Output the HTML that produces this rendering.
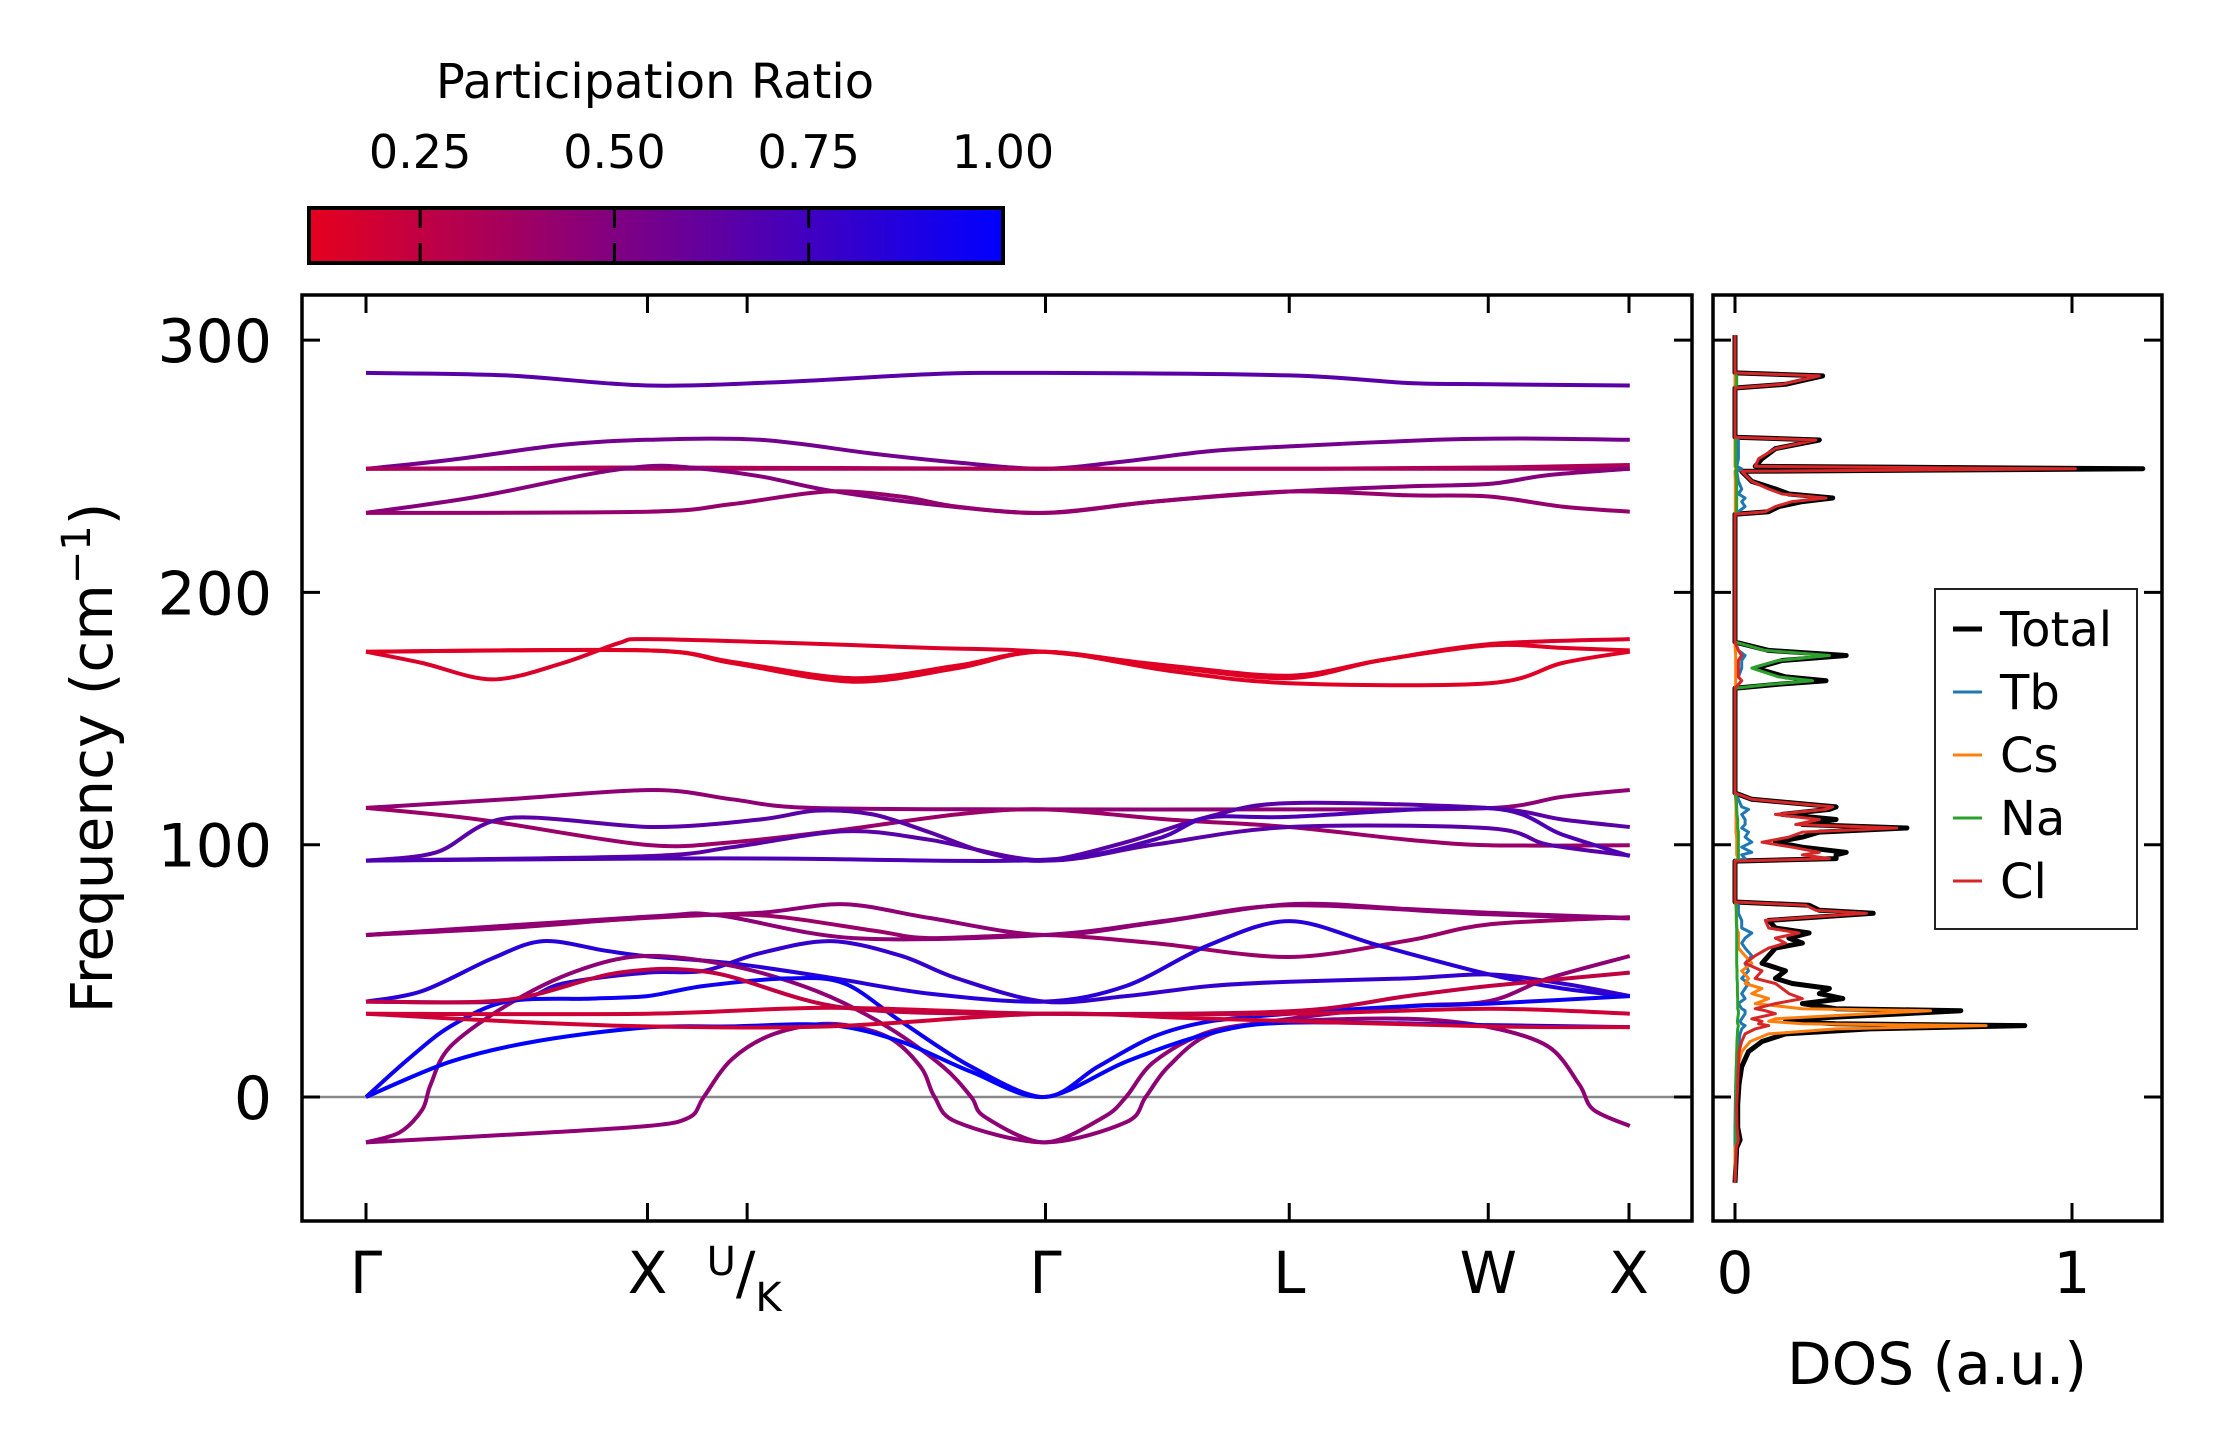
<!DOCTYPE html>
<html><head><meta charset="utf-8"><style>
html,body{margin:0;padding:0;background:#fff;}
svg{display:block;font-family:"DejaVu Sans","Liberation Sans",sans-serif;}
</style></head><body>
<svg id="fig" width="2222" height="1455" viewBox="0 0 2222 1455" xmlns="http://www.w3.org/2000/svg">
<defs>
<linearGradient id="cbgrad" x1="0" x2="1" y1="0" y2="0">
<stop offset="0" stop-color="rgb(230,0,30)"/><stop offset="1" stop-color="rgb(0,0,255)"/>
</linearGradient>
<clipPath id="mainclip"><rect x="302" y="295" width="1390" height="926"/></clipPath>
<clipPath id="dosclip"><rect x="1713" y="295" width="449" height="926"/></clipPath>
</defs>
<g id="colorbar">
<text x="655" y="98" font-size="48" text-anchor="middle">Participation Ratio</text>
<rect x="309" y="208" width="694" height="55" fill="url(#cbgrad)" stroke="#000" stroke-width="4"/>
<g id="cbticks"></g>
</g>
<g id="main">
<line x1="302" x2="1692" y1="1097" y2="1097" stroke="#888" stroke-width="2.5"/>
<g id="bands" clip-path="url(#mainclip)"></g>
<rect x="302" y="295" width="1390" height="926" fill="none" stroke="#000" stroke-width="3.5"/>
<g id="mainticks"></g>
<text transform="translate(112,758) rotate(-90)" font-size="58" text-anchor="middle">Frequency (cm<tspan dy="-22" font-size="40">−1</tspan><tspan dy="22">)</tspan></text>
</g>
<g id="dos">
<g id="doscurves" clip-path="url(#dosclip)"></g>
<rect x="1713" y="295" width="449" height="926" fill="none" stroke="#000" stroke-width="3.5"/>
<g id="dosticks"></g>
<text x="1937" y="1384" font-size="58" text-anchor="middle">DOS (a.u.)</text>
<g id="legend">
<rect x="1935" y="589" width="202" height="340" fill="#fff" stroke="#222" stroke-width="2"/>
</g>
</g>
</svg>
<script>
// ---- Band structure data ----
const kLabels = ["Γ","X","U/K","Γ","L","W","X"];
const kTicks = [0, 1.0, 1.354, 2.414, 3.28, 3.987, 4.487];
const yTicks = [0, 100, 200, 300];
const cbTicks = [0.25, 0.50, 0.75, 1.00];
const cbTickLabels = ["0.25","0.50","0.75","1.00"];
const bandPR = [0.65,0.55,0.38,0.33,0.48,0.42,0.15,0.13,0.13,0.45,0.4,0.65,0.65,0.7,0.45,0.4,0.45,0.85,0.8,0.45,0.45,1.0,0.95,0.2,0.2,0.25];
const bandK = [
[0,0.5,1.0,1.5,2.0,2.41,3.28,3.7,3.99,4.49],
[0,0.3,0.7,1.0,1.4,1.8,2.1,2.41,2.7,3.0,3.3,3.8,4.1,4.49],
[0,1,2.41,3.28,3.99,4.49],
[0,1,2.41,3.28,3.99,4.49],
[0,0.4,0.8,1.0,1.15,1.4,1.64,2.0,2.41,2.8,3.28,3.7,3.99,4.2,4.49],
[0,1.0,1.3,1.64,1.9,2.1,2.41,2.8,3.28,3.7,3.99,4.25,4.49],
[0,0.2,0.45,0.7,0.9,1.0,1.5,2.0,2.41,2.85,3.28,3.6,3.99,4.49],
[0,1.0,1.3,1.73,2.1,2.41,2.85,3.28,3.99,4.25,4.49],
[0,1.0,1.3,1.73,2.1,2.41,2.85,3.28,3.6,3.99,4.25,4.49],
[0,0.5,1.02,1.3,1.58,2.41,3.28,3.99,4.25,4.49],
[0,0.4,0.99,1.3,1.7,2.1,2.41,2.85,3.28,3.7,3.99,4.49],
[0,0.25,0.5,1.02,1.4,1.6,1.8,2.0,2.2,2.41,2.7,2.99,3.28,3.99,4.25,4.49],
[0,1.0,1.3,1.7,2.0,2.41,2.8,3.28,3.99,4.2,4.49],
[0,1.0,1.5,2.41,2.8,2.99,3.28,3.99,4.25,4.49],
[0,0.5,1.02,1.4,1.7,2.0,2.41,2.8,3.28,3.7,3.99,4.49],
[0,1.0,1.4,1.8,2.0,2.41,2.8,3.28,3.7,3.99,4.49],
[0,1.0,1.25,1.73,2.41,2.85,3.28,3.99,4.49],
[0,0.2,0.45,0.63,0.85,0.99,1.3,1.65,2.0,2.41,2.7,2.99,3.28,3.6,3.99,4.25,4.49],
[0,0.51,0.7,1.0,1.2,1.4,1.65,1.9,2.1,2.41,2.7,3.0,3.28,3.7,3.99,4.25,4.49],
[0,0.12,0.2,0.23,0.3,0.51,0.75,0.99,1.3,1.6,1.85,2.05,2.15,2.2,2.41,2.62,2.7,2.8,3.0,3.28,3.7,3.99,4.2,4.31,4.36,4.49],
[0,0.5,1.0,1.15,1.2,1.3,1.45,1.65,1.85,1.97,2.02,2.1,2.41,2.7,2.77,2.85,3.0,3.28,3.7,3.99,4.2,4.49],
[0,0.3,0.6,0.99,1.3,1.65,1.9,2.15,2.41,2.7,2.99,3.28,3.99,4.49],
[0,0.15,0.3,0.5,0.8,1.0,1.2,1.5,1.7,1.9,2.15,2.41,2.6,2.8,3.0,3.28,3.7,3.99,4.49],
[0,1.0,1.65,2.41,3.28,3.99,4.49],
[0,0.5,1.0,1.65,2.41,3.0,3.99,4.49],
[0,0.5,0.9,1.23,1.7,2.41,3.28,3.7,3.99,4.49]
];
const bandF = [
[287,286,282,283.5,286.5,287,286,283,282.5,282],
[249,252.5,258.5,260.5,260.5,255,251.5,249,252,256,258,260.5,261,260.5],
[249,249,249,249,249,249],
[249,249.5,249,249,249.5,250.5],
[231.5,238,247,250,249.5,246,240.5,235,231.5,236,240,242,243,246.5,249],
[231.5,232,235,240,238,234,231.5,236,240,238.5,238,234,232],
[176.5,172,165.5,172,180,181.5,180,178,176.5,171,167,173,179.5,181.5],
[176.5,177,172,164.6,170,176.5,169,164,164,172,176.5],
[176.5,177,172.5,166,171,176.5,170.5,166,173,179,178,177],
[114.6,118,121.7,118,114.6,114,114,114.5,119,121.7],
[114.6,110,100,101,106,112,114,110,107,102,99.8,99.8],
[93.7,97,110.5,107,110,113.5,112,105,97,93.7,101,111,116.5,114.5,110,107],
[93.7,95.5,99,105.3,102,93.7,100,107,106.5,100,95.7],
[93.7,94.5,94.5,94,102,110.7,111,114.5,104,95.5],
[64.2,67,71.3,73,76.4,71,64.2,69,76.4,74.5,73,71],
[64.2,71,72,66,63,64.2,61,55.5,62,68.4,71.3],
[64.2,71.5,72,63,64.2,70,76,72.4,70.8],
[37.8,42,55,61.8,58,55.9,53,47.3,41,37.8,44,60,69.7,60,48.6,43,40],
[37.8,38,45,49.3,50,57,61.8,56,47,37.8,40,44,45.7,47,48.6,45,40],
[-18,-14,-5,5,20,37,50,55.9,52,42,28,12,0,-8,-18,-8,0,14,26,30,31,27.7,20,5,-5,-11.5],
[-18,-15,-11.5,-8,0,15,25,29,24,12,0,-10,-18,-10,0,12,25,31,36,38,47,55.9],
[0,14,22,27.5,28,28.5,22,10,0,14,25,29.5,28.5,27.7],
[0,15,28,37.8,39,40,44,47,45,30,12,0,12,24,30,33,36,37,40],
[33,33,35.4,33,33,35,33],
[33,30,28,28,33,31,28,27.7],
[37.8,38.5,49.3,49.3,35.4,33,34,40,44,49.3]
];

// ---- DOS data ----
const dosFreq = [-34,-20,-17,-12,-3,5,12,18,22,25,27,28.3,29,30,31,33,34.2,35,37,39,41,43,45,47,50,53,56,59,61,63,65,67,70,72.8,74,76,77.3,93.5,94.5,96,97,99,101,103,105,106.6,108,110,112,114,115,118,120.5,162,163.5,165,166.5,170,173,175,177,180.3,231,232,234,236,237.4,239,241,244,248,249,250,253,257,260.4,261.5,281,282.5,285.8,287,302];
const dosTotal = [0,.005,.015,.008,.008,.012,.02,.04,.08,.15,.4,.86,.3,.15,.2,.5,.67,.3,.2,.32,.25,.28,.17,.12,.15,.08,.1,.12,.2,.16,.22,.12,.1,.41,.25,.22,0,0,.3,.3,.33,.2,.12,.2,.25,.51,.2,.3,.14,.28,.3,.05,0,0,.12,.27,.15,.06,.14,.33,.1,0,0,.1,.13,.2,.29,.16,.12,.05,.02,1.21,.06,.08,.12,.25,0,0,.15,.26,0,0];
const dosTb = [0,0,0,0,.001,.002,.004,.008,.012,.015,.02,.03,.02,.015,.02,.03,.03,.02,.01,.03,.02,.03,.04,.02,.04,.03,.05,.03,.02,.03,.05,.02,.02,.01,.01,.01,0,0,.03,.02,.05,.02,.05,.03,.04,.02,.03,.03,.02,.04,.02,.01,0,0,.01,.02,.01,.02,.02,.03,.01,0,0,.01,.03,.02,.03,.01,.02,.01,.005,.02,.005,.01,.01,.01,0,0,.001,.001,0,0];
const dosCs = [0,0,.005,.003,.003,.005,.008,.02,.045,.1,.3,.745,.2,.1,.12,.4,.58,.2,.06,.1,.05,.08,.03,.04,.02,.05,.03,.01,.01,.01,.01,.005,.005,.004,.004,.003,0,0,.01,.005,.005,.005,.005,.005,.003,.003,.003,.003,.003,.003,.003,.002,0,0,.002,.002,.002,.002,.002,.002,.001,0,0,.001,.001,.001,.001,.001,.001,.001,0,.003,0,0,0,0,0,0,0,0,0,0];
const dosNa = [0,.003,.003,.002,.002,.003,.004,.005,.006,.007,.008,.01,.008,.007,.008,.01,.01,.008,.008,.008,.007,.007,.007,.006,.006,.005,.005,.005,.005,.005,.005,.005,.004,.004,.004,.003,0,0,.01,.01,.01,.01,.01,.01,.01,.008,.008,.008,.006,.005,.005,.004,0,0,.1,.23,.13,.05,.13,.28,.09,0,0,.005,.005,.005,.005,.005,.005,.005,.002,.005,.002,.002,.002,.002,0,0,.005,.005,0,0];
const dosCl = [0,.004,.01,.006,.005,.008,.01,.012,.02,.03,.06,.1,.07,.08,.05,.12,.09,.06,.12,.2,.16,.14,.12,.06,.08,.03,.06,.1,.15,.12,.19,.1,.09,.39,.24,.21,0,0,.28,.2,.25,.17,.08,.16,.2,.48,.18,.25,.12,.27,.29,.05,0,0,.01,.02,.01,.01,.01,.02,.01,0,0,.09,.12,.17,.27,.14,.1,.05,.02,1.01,.06,.07,.12,.24,0,0,.14,.25,0,0];
const dosSeries = [dosTotal, dosTb, dosCs, dosNa, dosCl];
const dosNames = ["Total","Tb","Cs","Na","Cl"];
const dosColors = ["#000000","#1f77b4","#ff7f0e","#2ca02c","#d62728"];
const dosTicks = [0, 1];

// ---- scales ----
const NS = "http://www.w3.org/2000/svg";
const X0 = 366, XPX = 1263/4.487;
const xMain = k => X0 + k*XPX;
const yF = f => 1097 - f*2.523;
const xDos = v => 1735 + v*337;
const cbX = v => 309 + (v-0.107)/(1-0.107)*694;
function cmap(pr){
  let t = Math.max(0, Math.min(1, (pr-0.107)/(1-0.107)));
  return "rgb("+Math.round(230*(1-t))+",0,"+Math.round(30+225*t)+")";
}
function mk(tag, attrs, parent){
  const e = document.createElementNS(NS, tag);
  for (const a in attrs) e.setAttribute(a, attrs[a]);
  parent.appendChild(e); return e;
}
function spline(pts){
  let d = "M"+pts[0][0].toFixed(1)+","+pts[0][1].toFixed(1);
  for (let i=0;i<pts.length-1;i++){
    const p0 = pts[Math.max(0,i-1)], p1 = pts[i], p2 = pts[i+1], p3 = pts[Math.min(pts.length-1,i+2)];
    const t = 0.16;
    const c1 = [p1[0]+(p2[0]-p0[0])*t, p1[1]+(p2[1]-p0[1])*t];
    const c2 = [p2[0]-(p3[0]-p1[0])*t, p2[1]-(p3[1]-p1[1])*t];
    d += " C"+c1[0].toFixed(1)+","+c1[1].toFixed(1)+" "+c2[0].toFixed(1)+","+c2[1].toFixed(1)+" "+p2[0].toFixed(1)+","+p2[1].toFixed(1);
  }
  return d;
}

// bands
const gB = document.getElementById("bands");
bandK.forEach((ks, i) => {
  const pts = ks.map((k, j) => [xMain(k), yF(bandF[i][j])]);
  const p = mk("path", {d: spline(pts), fill:"none", stroke: cmap(bandPR[i]), "stroke-width":"4", "stroke-linejoin":"round"}, gB);
  
  
});

// main ticks
const gT = document.getElementById("mainticks");
kTicks.forEach((k, i) => {
  const x = xMain(k);
  const t1 = mk("line", {x1:x, x2:x, y1:1221, y2:1203, stroke:"#000", "stroke-width":"3"}, gT);
  
  
  const t2 = mk("line", {x1:x, x2:x, y1:295, y2:313, stroke:"#000", "stroke-width":"3"}, gT);
  
  
  let lab;
  if (kLabels[i] === "U/K") {
    lab = mk("text", {x:x-3, y:1293, "font-size":"58", "text-anchor":"middle"}, gT);
    lab.innerHTML = '<tspan font-size="40" dy="-18">U</tspan><tspan dy="18">/</tspan><tspan font-size="40" dy="18">K</tspan>';
  } else {
    lab = mk("text", {x:x, y:1293, "font-size":"58", "text-anchor":"middle"}, gT);
    lab.textContent = kLabels[i];
  }
  
  
});
yTicks.forEach(v => {
  const y = yF(v);
  const a = mk("line", {x1:302, x2:320, y1:y, y2:y, stroke:"#000", "stroke-width":"3"}, gT);
  
  
  const b = mk("line", {x1:1692, x2:1674, y1:y, y2:y, stroke:"#000", "stroke-width":"3"}, gT);
  
  
  const l = mk("text", {x:272, y:y+22, "font-size":"60", "text-anchor":"end"}, gT);
  l.textContent = String(v);
  
  
});

// colorbar ticks
const gC = document.getElementById("cbticks");
cbTicks.forEach((v, i) => {
  const x = cbX(v);
  if (v < 0.999) {
    const a = mk("line", {x1:x, x2:x, y1:208, y2:228, stroke:"#000", "stroke-width":"3"}, gC);
    
    
    const b = mk("line", {x1:x, x2:x, y1:243, y2:263, stroke:"#000", "stroke-width":"3"}, gC);
    
    
  }
  const l = mk("text", {x:x, y:168, "font-size":"46", "text-anchor":"middle"}, gC);
  l.textContent = cbTickLabels[i];
  
  
});

// DOS curves
const gD = document.getElementById("doscurves");
dosSeries.forEach((s, i) => {
  const pts = s.map((v, j) => xDos(v).toFixed(1)+","+yF(dosFreq[j]).toFixed(1)).join(" ");
  const pl = mk("polyline", {points: pts, fill:"none", stroke: dosColors[i], "stroke-width": i===0 ? "5" : "3", "stroke-linejoin":"round"}, gD);
  
  
});
const gDT = document.getElementById("dosticks");
dosTicks.forEach(v => {
  const x = xDos(v);
  const a = mk("line", {x1:x, x2:x, y1:1221, y2:1203, stroke:"#000", "stroke-width":"3"}, gDT);
  
  
  const b = mk("line", {x1:x, x2:x, y1:295, y2:313, stroke:"#000", "stroke-width":"3"}, gDT);
  
  
  const l = mk("text", {x:x, y:1293, "font-size":"58", "text-anchor":"middle"}, gDT);
  l.textContent = String(v);
  
  
});
yTicks.forEach(v => {
  const y = yF(v);
  const a = mk("line", {x1:1713, x2:1731, y1:y, y2:y, stroke:"#000", "stroke-width":"3"}, gDT);
  
  
  const b = mk("line", {x1:2162, x2:2144, y1:y, y2:y, stroke:"#000", "stroke-width":"3"}, gDT);
  
  
});

// legend
const gL = document.getElementById("legend");
dosNames.forEach((n, i) => {
  const y = 629 + i*63;
  const ln = mk("line", {x1:1953, x2:1982, y1:y, y2:y, stroke:dosColors[i], "stroke-width": i===0 ? "5" : "3"}, gL);
  
  
  const t = mk("text", {x:2000, y:y+17, "font-size":"48"}, gL);
  t.textContent = n;
  
  
});
</script>
</body></html>
